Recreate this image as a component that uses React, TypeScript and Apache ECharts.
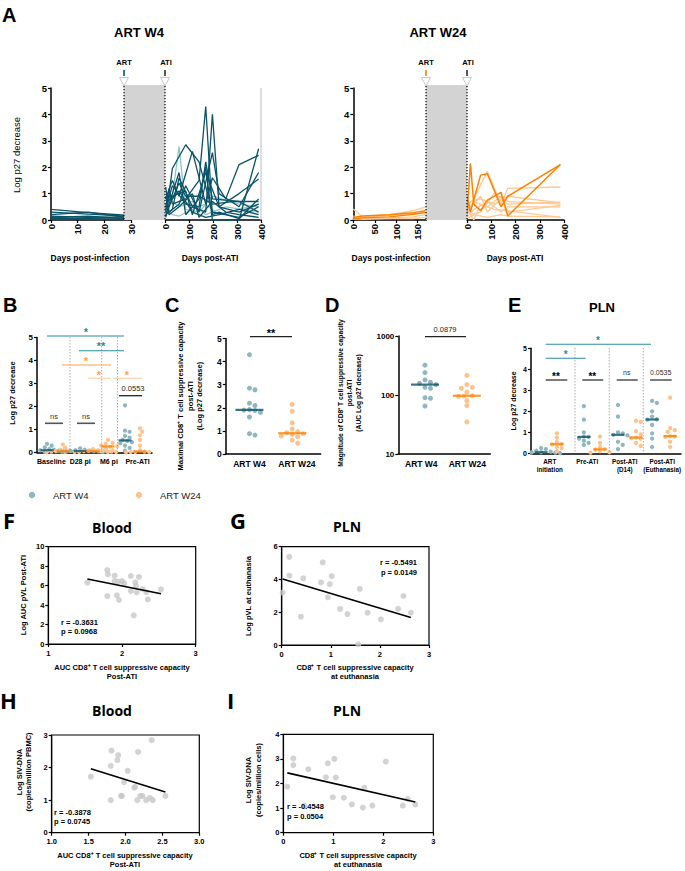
import React, { useEffect, useRef } from 'react';
import * as echarts from 'echarts';

// ---------------- DATA ----------------
// Panel A : ART W4 (days post-infection, then days post-ATI)
const A_W4_PRE: [number, number][][] = [
  [[0, 0.4], [14, 0.28], [28, 0.18]],
  [[0, 0.3], [14, 0.22], [28, 0.15]],
  [[0, 0.2], [14, 0.3], [28, 0.1]],
  [[0, 0.15], [14, 0.1], [28, 0.12]],
  [[0, 0.1], [14, 0.15], [28, 0.05]],
  [[0, 0.05], [14, 0.08], [28, 0.08]],
  [[0, 0.02], [14, 0.05], [28, 0.02]],
  [[0, 0.12], [14, 0.02], [28, 0.03]],
];
const A_W4_POST_LIGHT: [number, number][][] = [
  [[0, 0.2], [28, 0.9], [56, 2.78], [84, 0.4], [140, 0.3], [196, 0.9], [308, 0.6], [390, 0.5]],
  [[0, 0.5], [28, 0.2], [56, 0.15], [112, 0.4], [168, 0.6], [224, 0.2], [308, 0.4], [390, 0.6]],
  [[0, 0.3], [14, 0.8], [56, 0.5], [112, 0.7], [168, 0.2], [252, 0.5], [390, 0.3]],
];
const A_W4_POST_DARK: [number, number][][] = [
  [[0, 0.3], [14, 1.0], [28, 1.95], [84, 2.85], [140, 2.2], [196, 0.3], [308, 0.1], [390, 0.5]],
  [[0, 0.5], [14, 1.2], [28, 0.6], [84, 0.8], [140, 1.5], [168, 4.3], [196, 0.2], [224, 0.3], [308, 0.05], [390, 0.8]],
  [[0, 0.2], [28, 0.4], [56, 1.6], [112, 0.5], [168, 0.3], [196, 4.0], [224, 0.5], [308, 0.3], [390, 0.6]],
  [[0, 1.25], [14, 0.3], [56, 0.6], [84, 1.3], [140, 0.3], [196, 2.55], [224, 1.0], [308, 0.5], [390, 1.8]],
  [[0, 0.8], [28, 1.5], [56, 0.9], [112, 2.6], [168, 0.6], [196, 1.6], [252, 0.8], [308, 2.1], [390, 2.45]],
  [[0, 0.1], [14, 0.6], [56, 1.8], [84, 0.2], [140, 0.8], [168, 2.0], [196, 0.0], [308, 0.0], [390, 2.7]],
  [[0, 0.6], [28, 0.9], [84, 1.1], [112, 0.2], [168, 1.8], [224, 0.5], [308, 1.0], [390, 1.55]],
  [[0, 0.9], [14, 0.2], [56, 0.5], [112, 1.0], [140, 0.1], [196, 0.7], [252, 0.3], [308, 0.2], [390, 0.1]],
  [[0, 0.4], [28, 1.3], [84, 0.6], [140, 0.5], [168, 2.2], [196, 0.8], [308, 0.7], [390, 0.3]],
  [[0, 1.0], [28, 0.8], [56, 1.1], [112, 0.3], [168, 0.1], [224, 0.2], [308, 0.4], [390, 0.2]],
  [[0, 0.15], [14, 0.5], [56, 1.4], [84, 0.9], [140, 0.9], [196, 0.6], [280, 0.7], [390, 0.7]],
];
// Panel A : ART W24
const A_W24_PRE_LIGHT: [number, number][][] = [
  [[0, 0.42], [21, 0.12], [84, 0.2], [140, 0.35], [168, 0.5]],
  [[0, 0.15], [21, 0.1], [84, 0.18], [140, 0.25], [168, 0.3]],
  [[0, 0.02], [21, 0.05], [84, 0.08], [140, 0.12], [168, 0.2]],
  [[0, 0.08], [21, 0.02], [84, 0.05], [140, 0.05], [168, 0.1]],
];
const A_W24_PRE_DARK: [number, number][][] = [
  [[0, 0.1], [21, 0.15], [84, 0.2], [140, 0.28], [168, 0.35]],
  [[0, 0.05], [21, 0.08], [84, 0.12], [140, 0.22], [168, 0.28]],
];
const A_W24_POST_LIGHT: [number, number][][] = [
  [[0, 0.5], [28, 0.8], [84, 1.85], [140, 0.6], [168, 1.2], [385, 1.25]],
  [[0, 0.3], [14, 0.7], [56, 0.8], [112, 0.6], [168, 0.9], [385, 0.65]],
  [[0, 0.1], [28, 0.4], [84, 0.7], [140, 0.3], [168, 0.5], [385, 0.5]],
  [[0, 0.6], [14, 0.2], [56, 0.3], [112, 1.0], [168, 0.7], [385, 0.6]],
  [[0, 0.05], [28, 0.2], [84, 0.1], [140, 0.2], [168, 0.15], [385, 0.12]],
  [[0, 0.4], [28, 0.0], [56, 0.6], [112, 0.4], [168, 0.35], [385, 0.1]],
  [[0, 0.8], [14, 0.5], [56, 0.9], [84, 0.3], [140, 0.8], [168, 0.6], [385, 0.68]],
  [[0, 0.2], [28, 0.7], [84, 0.5], [140, 0.9], [168, 0.3], [385, 0.55]],
];
const A_W24_POST_DARK: [number, number][][] = [
  [[0, 0.2], [14, 2.15], [28, 0.6], [56, 0.35], [84, 0.75], [140, 1.05], [168, 0.15], [385, 2.1]],
  [[0, 0.9], [14, 0.3], [56, 1.7], [84, 1.75], [140, 0.5], [168, 0.9], [385, 2.1]],
];
const A_W4_X1_MAX = 30;
const A_W24_X1_MAX = 170;
const A_X2_MAX = 400;

// Panel B
const B_CATEGORIES = ['Baseline', 'D28 pi', 'M6 pi', 'Pre-ATI'];
const B_BASELINE_W4 = [0.38, 0.3, 0.22, 0.15, 0.12, 0.1, 0.08, 0.05, 0.05, 0.03, 0.02];
const B_BASELINE_W24 = [0.35, 0.2, 0.12, 0.08, 0.06, 0.05, 0.04, 0.03, 0.02, 0.01];
const B_D28_W4 = [0.18, 0.12, 0.1, 0.08, 0.07, 0.06, 0.05, 0.05, 0.04, 0.03];
const B_D28_W24 = [0.15, 0.1, 0.08, 0.07, 0.06, 0.05, 0.05, 0.04, 0.03, 0.02];
const B_M6_W24 = [0.55, 0.42, 0.38, 0.3, 0.28, 0.25, 0.18, 0.1, 0.05, 0.02];
const B_PRE_W4 = [2.05, 0.95, 0.9, 0.72, 0.65, 0.55, 0.5, 0.45, 0.4, 0.3, 0.2, 0.08];
const B_PRE_W24 = [1.05, 0.9, 0.75, 0.55, 0.3, 0.1, 0.04, 0.03, 0.02, 0.02, 0.01, 0.01, 0.01];

// Panel C
const C_CATEGORIES = ['ART W4', 'ART W24'];
const C_W4 = [4.3, 2.85, 2.78, 2.2, 2.1, 1.92, 1.9, 1.88, 1.8, 1.6, 0.88, 0.82];
const C_W24 = [2.15, 1.85, 1.35, 1.08, 0.97, 0.92, 0.88, 0.85, 0.78, 0.75, 0.6, 0.47];

// Panel D
const D_CATEGORIES = ['ART W4', 'ART W24'];
const D_W4 = [320, 240, 180, 165, 158, 150, 135, 130, 90, 88, 65];
const D_W24 = [215, 150, 135, 130, 112, 97, 96, 95, 80, 66, 35];

// Panel E
const E_CATEGORIES = ['ART\ninitiation', 'Pre-ATI', 'Post-ATI\n(D14)', 'Post-ATI\n(Euthanasia)'];
const E_INIT_W4 = [0.25, 0.2, 0.12, 0.08, 0.05, 0.04, 0.03, 0.02, 0.01];
const E_INIT_W24 = [0.95, 0.75, 0.55, 0.45, 0.42, 0.3, 0.25, 0.1];
const E_PRE_W4 = [2.25, 1.6, 1.0, 0.8, 0.78, 0.7, 0.6, 0.5, 0.4];
const E_PRE_W24 = [0.8, 0.5, 0.3, 0.2, 0.18, 0.1, 0.05, 0.03];
const E_D14_W4 = [2.3, 1.75, 1.0, 0.95, 0.88, 0.85, 0.55, 0.4, 0.2];
const E_D14_W24 = [1.55, 1.5, 1.05, 0.9, 0.75, 0.72, 0.7, 0.5, 0.35];
const E_EUTH_W4 = [2.5, 2.4, 2.0, 1.75, 1.62, 1.6, 1.35, 0.95, 0.7, 0.3];
const E_EUTH_W24 = [2.65, 1.2, 1.1, 1.02, 0.82, 0.8, 0.78, 0.55, 0.3];

// Panel F (Blood)
const F_X = [1.53, 1.8, 1.81, 1.9, 1.9, 1.95, 2.0, 2.03, 2.12, 2.18, 2.23, 2.19, 2.12, 2.2, 2.28, 2.33, 1.8, 1.93, 1.96, 2.35, 2.53, 2.16];
const F_Y = [6.3, 7.6, 7.16, 7.02, 6.47, 6.41, 6.47, 6.24, 6.99, 6.34, 6.89, 5.96, 5.45, 5.31, 5.65, 5.34, 4.93, 5.0, 4.52, 4.59, 5.62, 2.95];
// Panel G (PLN)
const G_X = [0.02, 0.155, 0.155, 0.44, 0.39, 0.835, 0.8, 0.94, 0.98, 1.02, 1.19, 1.34, 1.59, 1.75, 2.02, 2.48, 2.37, 2.63, 1.56];
const G_Y = [3.2, 5.38, 4.23, 4.07, 1.73, 5.04, 3.82, 2.91, 3.72, 4.2, 2.2, 1.89, 3.43, 1.97, 1.57, 2.99, 2.2, 1.97, 0.04];
// Panel H (Blood)
const H_X = [1.53, 1.81, 1.8, 1.9, 1.89, 2.03, 1.98, 1.8, 1.94, 1.95, 2.13, 2.12, 2.17, 2.355, 2.16, 2.2, 2.23, 2.28, 2.33, 2.37, 2.54];
const H_Y = [1.72, 2.52, 2.05, 2.38, 2.23, 1.9, 1.55, 1.0, 1.13, 1.13, 1.41, 1.38, 2.48, 2.84, 1.0, 1.13, 1.13, 1.0, 1.07, 1.0, 1.13];
// Panel I (PLN)
const I_X = [0.08, 0.2, 0.2, 0.42, 0.5, 0.85, 0.89, 1.02, 1.05, 0.99, 1.21, 1.37, 1.59, 1.62, 1.78, 2.05, 2.39, 2.49, 2.64];
const I_Y = [1.87, 3.02, 2.75, 1.1, 2.58, 2.25, 2.82, 3.0, 2.24, 1.44, 1.42, 1.15, 1.02, 1.83, 1.1, 2.89, 1.1, 1.37, 1.15];

// ---------------- STYLE ----------------
const FONT = '"Liberation Sans", Arial, sans-serif';
const FONT2 = '"Open Sans", "Liberation Sans", sans-serif';
const TEAL = '#0b5368';
const TEAL_LIGHT = '#8cc6ca';
const TEAL_DOT = '#8fb6c1';
const TEAL_SIG = '#2a8c9c';
const ORANGE = '#ff8000';
const ORANGE_LIGHT = '#ffc892';
const ORANGE_DOT = '#fec28c';
const ORANGE_SIG = '#ffa347';
const ORANGE_SIG_LIGHT = '#ffd9b3';
const GREY_DOT = '#c8c8c8';

function median(v: number[]) {
  const s = [...v].sort((a, b) => a - b);
  const n = s.length;
  return n % 2 ? s[(n - 1) / 2] : (s[n / 2 - 1] + s[n / 2]) / 2;
}

function swarm(values: number[], toPx: (v: number) => number, dot: number) {
  const order = values.map((_, i) => i).sort((a, b) => values[b] - values[a]);
  const placed: { x: number; y: number }[] = [];
  const out = new Array(values.length).fill(0);
  const step = dot * 0.55;
  for (const i of order) {
    const y = toPx(values[i]);
    for (let k = 0; k < 60; k++) {
      const c = k === 0 ? 0 : (k % 2 === 1 ? 1 : -1) * Math.ceil(k / 2) * step;
      if (placed.every((p) => Math.hypot(p.x - c, p.y - y) >= dot * 0.95)) {
        out[i] = c;
        placed.push({ x: c, y });
        break;
      }
    }
  }
  return out;
}

function regression(xs: number[], ys: number[]) {
  const n = xs.length;
  const mx = xs.reduce((a, b) => a + b, 0) / n;
  const my = ys.reduce((a, b) => a + b, 0) / n;
  let sxy = 0, sxx = 0;
  for (let i = 0; i < n; i++) { sxy += (xs[i] - mx) * (ys[i] - my); sxx += (xs[i] - mx) ** 2; }
  const b = sxy / sxx;
  const a = my - b * mx;
  const x0 = Math.min(...xs), x1 = Math.max(...xs);
  return [[x0, a + b * x0], [x1, a + b * x1]];
}

const txt = (text: string, x: number, y: number, o: any = {}) => ({
  type: 'text', x, y, rotation: o.rot || 0, silent: true, z: 30,
  style: {
    text, x: 0, y: 0, fill: o.color || '#000', fontSize: o.size || 8, fontWeight: o.weight || 'bold',
    fontFamily: o.family || FONT, align: o.align || 'center', verticalAlign: o.va || 'middle',
    lineHeight: o.lh,
  },
});
const ln = (x1: number, y1: number, x2: number, y2: number, stroke: string, w = 1.2, dash?: number[]) => ({
  type: 'line', silent: true, z: 25, shape: { x1, y1, x2, y2 },
  style: { stroke, lineWidth: w, lineDash: dash },
});

function buildOption() {
  const axLine = { show: true, onZero: false, lineStyle: { color: '#000', width: 1.5 } };
  const axTick = { show: true, length: 3, lineStyle: { color: '#000', width: 1.2 } };
  const lbl = (size: number, extra: any = {}) => ({ color: '#000', fontSize: size, fontWeight: 'bold', fontFamily: FONT, ...extra });
  const noSplit = { show: false };

  const G = (left: number, top: number, width: number, height: number, box = false) => ({
    left, top, width, height, containLabel: false, outerBoundsMode: 'none',
    show: box, borderColor: '#000', borderWidth: 1.2,
  });
  const grid = [
    G(51, 88, 80, 132), // 0 A W4 pre
    G(165.7, 88, 95.3, 132), // 1 A W4 post
    G(353.3, 88, 73, 132), // 2 A W24 pre
    G(467, 88, 97, 132), // 3 A W24 post
    G(37, 337.5, 115, 115), // 4 B
    G(225.7, 338.5, 95, 115.5), // 5 C
    G(398.3, 336, 92, 118), // 6 D
    G(531, 348.3, 150, 105), // 7 E
    G(48.3, 546.7, 147.4, 97.3, true), // 8 F
    G(281.7, 546.7, 147.3, 98.3, true), // 9 G
    G(51.7, 735, 147.6, 97.7, true), // 10 H
    G(283.3, 734.3, 150, 98.4, true), // 11 I
  ];

  const aX = (gi: number, max: number, interval: number) => ({
    gridIndex: gi, type: 'value', min: 0, max, interval, axisLine: axLine, axisTick: axTick,
    axisLabel: lbl(9.5, { rotate: 90, margin: 4 }), splitLine: noSplit,
  });
  const catX = (gi: number, data: string[], size: number, extra: any = {}) => ({
    gridIndex: gi, type: 'category', data, boundaryGap: true, axisLine: axLine, axisTick: { show: false },
    axisLabel: lbl(size, { interval: 0, margin: 5, ...extra }), splitLine: noSplit,
  });
  const hidX = (gi: number, min: number, max: number) => ({ gridIndex: gi, type: 'value', min, max, show: false });
  const valX = (gi: number, min: number, max: number, interval: number, fmt?: any) => ({
    gridIndex: gi, type: 'value', min, max, interval, axisLine: { ...axLine, lineStyle: { color: '#000', width: 1.2 } },
    axisTick: axTick, axisLabel: lbl(7.5, { margin: 5, formatter: fmt }), splitLine: noSplit,
  });
  const valY = (gi: number, min: number, max: number, interval: number, size = 7.5, width = 1.2) => ({
    gridIndex: gi, type: 'value', min, max, interval, axisLine: { ...axLine, lineStyle: { color: '#000', width } },
    axisTick: axTick, axisLabel: lbl(size, { margin: 4 }), splitLine: noSplit,
  });

  const xAxis = [
    aX(0, A_W4_X1_MAX, 10), aX(1, A_X2_MAX, 100), aX(2, A_W24_X1_MAX, 50), aX(3, A_X2_MAX, 100),
    catX(4, B_CATEGORIES, 7), hidX(4, -0.5, 3.5),
    catX(5, C_CATEGORIES, 8.5), hidX(5, -0.5, 1.5),
    catX(6, D_CATEGORIES, 8.5), hidX(6, -0.5, 1.5),
    catX(7, E_CATEGORIES, 6.3, { lineHeight: 8, margin: 4 }), hidX(7, -0.5, 3.5),
    valX(8, 1, 3, 1), valX(9, 0, 3, 1), valX(10, 1, 3, 0.5, (v: number) => v.toFixed(1)), valX(11, 0, 3, 1),
  ];
  const yAxis = [
    valY(0, 0, 5, 1, 9.5, 1.5), { gridIndex: 1, type: 'value', min: 0, max: 5, show: false },
    valY(2, 0, 5, 1, 9.5, 1.5), { gridIndex: 3, type: 'value', min: 0, max: 5, show: false },
    valY(4, 0, 5, 1, 8, 1.5), valY(5, 0, 5, 1, 8.5, 1.5),
    {
      gridIndex: 6, type: 'log', logBase: 10, min: 10, max: 1000, axisLine: axLine, axisTick: axTick,
      minorTick: { show: false }, axisLabel: lbl(8, { margin: 4, formatter: (v: number) => String(Math.round(v)) }), splitLine: noSplit,
    },
    valY(7, 0, 5, 1, 7, 1.5),
    valY(8, 0, 10, 2), valY(9, 0, 6, 2), valY(10, 0, 3, 1), valY(11, 0, 4, 1),
  ];

  const series: any[] = [];
  const lineS = (data: [number, number][], xi: number, color: string, width: number, z: number) => ({
    type: 'line', xAxisIndex: xi, yAxisIndex: xi, data, showSymbol: false, symbol: 'none',
    lineStyle: { color, width }, itemStyle: { color }, z, silent: true, clip: false,
  });
  A_W4_PRE.forEach((d) => series.push(lineS(d, 0, TEAL, 1.3, 3)));
  A_W4_POST_LIGHT.forEach((d) => series.push(lineS(d, 1, TEAL_LIGHT, 1.3, 2)));
  A_W4_POST_DARK.forEach((d) => series.push(lineS(d, 1, TEAL, 1.3, 3)));
  A_W24_PRE_LIGHT.forEach((d) => series.push(lineS(d, 2, ORANGE_LIGHT, 1.3, 2)));
  A_W24_PRE_DARK.forEach((d) => series.push(lineS(d, 2, ORANGE, 1.4, 3)));
  A_W24_POST_LIGHT.forEach((d) => series.push(lineS(d, 3, ORANGE_LIGHT, 1.3, 2)));
  A_W24_POST_DARK.forEach((d) => series.push(lineS(d, 3, ORANGE, 1.5, 3)));

  // dot plots
  const dots = (values: number[], center: number, xi: number, yi: number, toPx: (v: number) => number,
    pxPerUnit: number, dot: number, color: string) => {
    const off = swarm(values, toPx, dot);
    return {
      type: 'scatter', xAxisIndex: xi, yAxisIndex: yi, symbolSize: dot, silent: true, z: 3,
      itemStyle: { color, opacity: 1 }, data: values.map((v, i) => [center + off[i] / pxPerUnit, v]),
    };
  };
  const med = (values: number[], center: number, xi: number, yi: number, w: number, color: string) => ({
    type: 'scatter', xAxisIndex: xi, yAxisIndex: yi, symbol: 'rect', symbolSize: [w, 2.2], silent: true, z: 4,
    itemStyle: { color }, data: [[center, median(values)]],
  });
  const group = (values: number[], center: number, xi: number, yi: number, toPx: any, ppu: number, dot: number, w4: boolean, mw: number) => {
    series.push(dots(values, center, xi, yi, toPx, ppu, dot, w4 ? TEAL_DOT : ORANGE_DOT));
    series.push(med(values, center, xi, yi, mw, w4 ? TEAL : ORANGE));
  };
  const bY = (v: number) => -v * 23;
  const bU = 28.75;
  group(B_BASELINE_W4, -0.15, 5, 4, bY, bU, 4.2, true, 13);
  group(B_BASELINE_W24, 0.4, 5, 4, bY, bU, 4.2, false, 13);
  group(B_D28_W4, 1.0, 5, 4, bY, bU, 4.2, true, 13);
  group(B_D28_W24, 1.45, 5, 4, bY, bU, 4.2, false, 13);
  group(B_M6_W24, 1.97, 5, 4, bY, bU, 4.2, false, 13);
  group(B_PRE_W4, 2.56, 5, 4, bY, bU, 4.2, true, 13);
  group(B_PRE_W24, 3.08, 5, 4, bY, bU, 4.2, false, 13);

  const cY = (v: number) => -v * 23.1;
  group(C_W4, 0.0, 7, 5, cY, 47.5, 5, true, 28);
  group(C_W24, 0.9, 7, 5, cY, 47.5, 5, false, 28);

  const dY = (v: number) => -Math.log10(v) * 59;
  group(D_W4, 0.08, 9, 6, dY, 46, 5, true, 28);
  group(D_W24, 0.99, 9, 6, dY, 46, 5, false, 28);

  const eY = (v: number) => -v * 21;
  const eU = 37.5;
  group(E_INIT_W4, -0.23, 11, 7, eY, eU, 4.3, true, 13);
  group(E_INIT_W24, 0.19, 11, 7, eY, eU, 4.3, false, 13);
  group(E_PRE_W4, 0.91, 11, 7, eY, eU, 4.3, true, 13);
  group(E_PRE_W24, 1.34, 11, 7, eY, eU, 4.3, false, 13);
  group(E_D14_W4, 1.82, 11, 7, eY, eU, 4.3, true, 13);
  group(E_D14_W24, 2.3, 11, 7, eY, eU, 4.3, false, 13);
  group(E_EUTH_W4, 2.73, 11, 7, eY, eU, 4.3, true, 13);
  group(E_EUTH_W24, 3.21, 11, 7, eY, eU, 4.3, false, 13);

  // correlations
  const corr = (xs: number[], ys: number[], axis: number) => {
    series.push({
      type: 'scatter', xAxisIndex: axis + 12, yAxisIndex: axis + 8, symbolSize: 6, silent: true, z: 3,
      itemStyle: { color: GREY_DOT }, data: xs.map((x, i) => [x, ys[i]]),
    });
    series.push({
      type: 'line', xAxisIndex: axis + 12, yAxisIndex: axis + 8, data: regression(xs, ys), showSymbol: false,
      symbol: 'none', lineStyle: { color: '#000', width: 1.6 }, silent: true, z: 4,
    });
  };
  corr(F_X, F_Y, 0);
  corr(G_X, G_Y, 1);
  corr(H_X, H_Y, 2);
  corr(I_X, I_Y, 3);

  // ---------- graphics ----------
  const g: any[] = [];
  // Panel A
  g.push(txt('A', 2, 15, { size: 20, align: 'left' }));
  g.push(txt('ART W4', 139, 32, { size: 13 }));
  g.push(txt('ART W24', 438, 32, { size: 13 }));
  const artAti = (xArt: number, xAti: number, artColor: string) => {
    g.push({ type: 'rect', silent: true, z: 10, shape: { x: xArt, y: 85, width: xAti - xArt, height: 135 }, style: { fill: '#d3d3d3' } });
    g.push(ln(xArt, 86, xArt, 220, '#000', 1.2, [1.2, 1.8]));
    g.push(ln(xAti, 86, xAti, 220, '#000', 1.2, [1.2, 1.8]));
    g.push(txt('ART', xArt, 62, { size: 7.5 }));
    g.push(txt('ATI', xAti + 1, 62, { size: 7.5 }));
    g.push(ln(xArt, 70, xArt, 76, artColor, 1.6));
    g.push(ln(xAti, 70, xAti, 76, '#000', 1.3));
    [xArt, xAti].forEach((x) => g.push({
      type: 'polygon', silent: true, z: 26, shape: { points: [[x - 4.5, 77.5], [x + 4.5, 77.5], [x, 86]] },
      style: { fill: '#fff', stroke: '#c8c8c8', lineWidth: 1 },
    }));
  };
  artAti(124, 165, TEAL);
  artAti(426, 467, ORANGE);
  g.push(ln(261, 88, 261, 220, '#bdbdbd', 1));
  g.push(txt('Log p27 decrease', 16, 155, { size: 9.5, weight: 'normal', rot: Math.PI / 2 }));
  g.push(txt('Days post-infection', 90, 258, { size: 8.5 }));
  g.push(txt('Days post-ATI', 210, 258, { size: 8.5 }));
  g.push(txt('Days post-infection', 391, 258, { size: 8.5 }));
  g.push(txt('Days post-ATI', 515, 258, { size: 8.5 }));

  // Panel B
  g.push(txt('B', 3, 305, { size: 20, align: 'left' }));
  g.push(txt('Log p27 decrease', 12, 393, { size: 7.5, rot: Math.PI / 2 }));
  [70, 101.7, 117.5].forEach((x) => g.push(ln(x, 337, x, 452, '#9a9a9a', 0.8, [1.5, 1.5])));
  g.push(ln(47, 336, 124, 336, TEAL_SIG, 1.1));
  g.push(txt('*', 86, 331.5, { size: 11, color: TEAL_SIG }));
  g.push(ln(79, 350.7, 124, 350.7, TEAL_SIG, 1.1));
  g.push(txt('**', 101, 346, { size: 11, color: TEAL_SIG }));
  g.push(ln(62, 365, 111, 365, ORANGE_SIG, 1.1));
  g.push(txt('*', 86, 360.5, { size: 11, color: ORANGE_SIG }));
  g.push(ln(88, 378.3, 110.5, 378.3, ORANGE_SIG_LIGHT, 1.4));
  g.push(ln(113, 378.3, 142, 378.3, ORANGE_SIG_LIGHT, 1.4));
  g.push(txt('*', 99, 374.5, { size: 11, color: ORANGE_SIG }));
  g.push(txt('*', 127, 374.5, { size: 11, color: ORANGE_SIG }));
  g.push(txt('0.0553', 133, 388.5, { size: 7.5, weight: 'normal', color: '#222' }));
  g.push(ln(119, 395.7, 142, 395.7, '#222', 1.3));
  g.push(txt('ns', 54, 416.5, { size: 7.5, weight: 'normal', color: '#333' }));
  g.push(ln(45, 423.3, 63, 423.3, '#555', 1.6));
  g.push(txt('ns', 86, 416.5, { size: 7.5, weight: 'normal', color: '#333' }));
  g.push(ln(77, 423.3, 95, 423.3, '#555', 1.6));

  // Panel C
  g.push(txt('C', 165, 305, { size: 20, align: 'left' }));
  g.push(txt('Maximal CD8⁺ T cell suppressive capacity\npost-ATI\n(Log p27 decrease)', 190, 396, { size: 7.5, rot: Math.PI / 2, lh: 9.5 }));
  g.push(ln(250, 336.7, 292, 336.7, '#222', 1.2));
  g.push(txt('**', 271, 333, { size: 11 }));

  // Panel D
  g.push(txt('D', 325, 305, { size: 20, align: 'left' }));
  g.push(txt('Magnitude of CD8⁺ T cell suppressive capacity\npost-ATI\n(AUC Log p27 decrease)', 349, 393, { size: 6.7, rot: Math.PI / 2, lh: 9 }));
  g.push(txt('0.0879', 445, 329, { size: 7.5, weight: 'normal', color: '#222' }));
  g.push(ln(425, 336.7, 466, 336.7, '#222', 1.2));

  // Panel E
  g.push(txt('E', 508, 305, { size: 20, align: 'left' }));
  g.push(txt('PLN', 602, 307, { size: 13 }));
  g.push(txt('Log p27 decrease', 513, 401, { size: 7, rot: Math.PI / 2 }));
  [575, 609.3, 643.3].forEach((x) => g.push(ln(x, 348, x, 453, '#9a9a9a', 0.8, [1.5, 1.5])));
  g.push(ln(545.7, 344.3, 651, 344.3, TEAL_SIG, 1.1));
  g.push(txt('*', 598, 340.5, { size: 10, color: TEAL_SIG }));
  g.push(ln(545.7, 358.3, 585.7, 358.3, TEAL_SIG, 1.1));
  g.push(txt('*', 565.7, 354.5, { size: 10, color: TEAL_SIG }));
  g.push(txt('**', 556, 376, { size: 10 }));
  g.push(ln(545.7, 380, 567.3, 380, '#444', 1.4));
  g.push(txt('**', 592.3, 376, { size: 10 }));
  g.push(ln(582.3, 380, 603.3, 380, '#444', 1.4));
  g.push(txt('ns', 626.7, 372.5, { size: 7, weight: 'normal', color: '#333' }));
  g.push(ln(616.7, 380, 637.7, 380, '#444', 1.4));
  g.push(txt('0.0535', 660.7, 372.5, { size: 7, weight: 'normal', color: '#333' }));
  g.push(ln(650, 380, 671.7, 380, '#444', 1.4));

  // legend
  g.push({ type: 'circle', silent: true, z: 30, shape: { cx: 32, cy: 495, r: 3.2 }, style: { fill: TEAL_DOT } });
  g.push(txt('ART W4', 53, 495, { size: 9.5, weight: 'normal', align: 'left', color: '#222' }));
  g.push({ type: 'circle', silent: true, z: 30, shape: { cx: 139, cy: 495, r: 3.2 }, style: { fill: ORANGE_DOT } });
  g.push(txt('ART W24', 160, 495, { size: 9.5, weight: 'normal', align: 'left', color: '#222' }));

  // F
  g.push(txt('F', 3, 520, { size: 22, align: 'left', family: FONT2 }));
  g.push(txt('Blood', 112, 527, { size: 14, family: FONT2 }));
  g.push(txt('Log AUC pVL Post-ATI', 23, 595, { size: 7.5, rot: Math.PI / 2 }));
  g.push(txt('AUC CD8⁺ T cell suppressive capacity\nPost-ATI', 122, 672, { size: 7.5, lh: 9 }));
  g.push(txt('r = -0.3631\np = 0.0968', 61, 627, { size: 7.5, align: 'left', lh: 9 }));
  // G
  g.push(txt('G', 230, 520, { size: 22, align: 'left', family: FONT2 }));
  g.push(txt('PLN', 347, 526, { size: 14, family: FONT2 }));
  g.push(txt('Log pVL at euthanasia', 248, 596, { size: 7.5, rot: Math.PI / 2 }));
  g.push(txt('CD8⁺ T cell suppressive capacity\nat euthanasia', 355, 672, { size: 7.5, lh: 9 }));
  g.push(txt('r = -0.5491\np = 0.0149', 417, 567.5, { size: 7.5, align: 'right', lh: 9.5 }));
  // H
  g.push(txt('H', 0, 700, { size: 22, align: 'left', family: FONT2 }));
  g.push(txt('Blood', 112, 710, { size: 14, family: FONT2 }));
  g.push(txt('Log SIV-DNA\n(copies/million PBMC)', 24, 772, { size: 7.5, rot: Math.PI / 2, lh: 9.5 }));
  g.push(txt('AUC CD8⁺ T cell suppressive capacity\nPost-ATI', 125, 860, { size: 7.5, lh: 9 }));
  g.push(txt('r = -0.3878\np = 0.0745', 54, 817, { size: 7.5, align: 'left', lh: 9.5 }));
  // I
  g.push(txt('I', 227, 700, { size: 22, align: 'left', family: FONT2 }));
  g.push(txt('PLN', 347, 710, { size: 14, family: FONT2 }));
  g.push(txt('Log SIV-DNA\n(copies/million cells)', 253.5, 780, { size: 7.5, rot: Math.PI / 2, lh: 9.5 }));
  g.push(txt('CD8⁺ T cell suppressive capacity\nat euthanasia', 358, 860, { size: 7.5, lh: 9 }));
  g.push(txt('r = -0.4548\np = 0.0504', 287, 811.5, { size: 7.5, align: 'left', lh: 9.5 }));

  return {
    animation: false,
    backgroundColor: '#fff',
    textStyle: { fontFamily: FONT },
    grid, xAxis, yAxis, series,
    graphic: { elements: g },
  };
}

export default function App() {
  const ref = useRef<HTMLDivElement>(null);
  useEffect(() => {
    const chart = echarts.init(ref.current!, null, { renderer: 'svg' });
    chart.setOption(buildOption() as any);
    return () => chart.dispose();
  }, []);
  return <div ref={ref} style={{ position: 'absolute', left: 0, top: 0, width: 685, height: 871, background: '#fff' }} />;
}
